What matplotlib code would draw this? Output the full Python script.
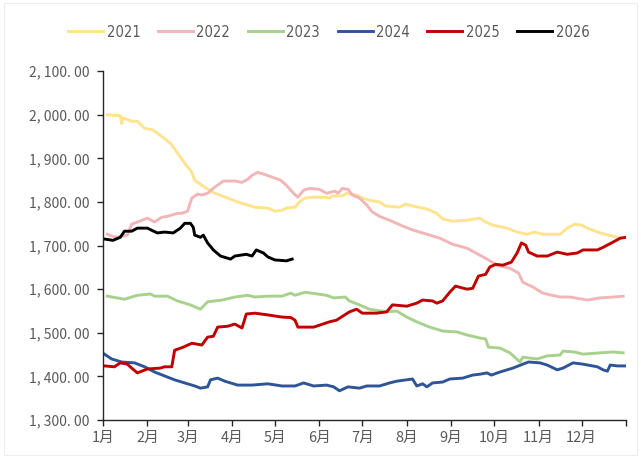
# Seasonal price lines, 2021-2026, by day of year

import matplotlib
matplotlib.use('Agg')
import matplotlib.pyplot as plt
from matplotlib.patches import Rectangle
import numpy as np

# --- Data (day of year, value) ---
days_2021 = [3, 12, 13, 14, 20, 24, 29, 35, 41, 47, 52, 57, 62, 64, 71, 78, 87, 94, 106, 115,
             120, 125, 128, 134, 137, 141, 147, 154, 158, 160, 167, 170, 177, 181, 186, 193, 197,
             207, 211, 216, 226, 233, 237, 244, 254, 263, 267, 272, 282, 289, 296, 301, 307, 319,
             324, 329, 334, 338, 347, 359, 361]
vals_2021 = [2000, 1998, 1980, 1993, 1985, 1985, 1969, 1965, 1950, 1935, 1912, 1889, 1868, 1850,
             1834, 1820, 1809, 1800, 1788, 1786, 1779, 1781, 1786, 1788, 1800, 1809, 1811, 1811,
             1809, 1814, 1814, 1820, 1816, 1809, 1804, 1800, 1791, 1788, 1795, 1791, 1784, 1774,
             1761, 1756, 1758, 1763, 1754, 1747, 1740, 1731, 1726, 1731, 1726, 1726, 1740, 1749,
             1747, 1740, 1729, 1719, 1717]

days_2022 = [3, 6, 10, 17, 20, 24, 31, 36, 41, 45, 52, 55, 59, 62, 66, 69, 73, 78, 84, 92, 97,
             101, 104, 108, 113, 118, 124, 128, 133, 136, 140, 144, 151, 156, 162, 164, 167, 171,
             174, 179, 184, 188, 193, 200, 209, 216, 226, 235, 244, 254, 258, 263, 268, 275, 284,
             290, 293, 300, 307, 312, 319, 326, 338, 347, 356, 363]
vals_2022 = [1726, 1722, 1719, 1724, 1749, 1754, 1763, 1754, 1765, 1767, 1774, 1774, 1779, 1809,
             1818, 1816, 1820, 1834, 1848, 1848, 1845, 1852, 1861, 1868, 1863, 1857, 1850, 1838,
             1820, 1811, 1827, 1831, 1829, 1820, 1825, 1820, 1831, 1829, 1816, 1809, 1793, 1777,
             1767, 1758, 1745, 1736, 1726, 1717, 1703, 1694, 1687, 1678, 1669, 1655, 1648, 1637,
             1616, 1605, 1591, 1587, 1582, 1582, 1575, 1580, 1582, 1584]

days_2023 = [3, 15, 24, 33, 36, 45, 52, 61, 68, 73, 83, 92, 101, 106, 115, 125, 131, 134, 141,
             156, 161, 169, 172, 179, 186, 198, 205, 212, 219, 228, 237, 247, 254, 263, 267, 269,
             277, 284, 291, 293, 303, 310, 319, 321, 329, 335, 347, 356, 363]
vals_2023 = [1584, 1577, 1586, 1589, 1584, 1584, 1573, 1564, 1554, 1571, 1575, 1582, 1586, 1582,
             1584, 1584, 1591, 1586, 1593, 1586, 1580, 1582, 1573, 1564, 1554, 1548, 1550, 1536,
             1525, 1513, 1504, 1502, 1495, 1488, 1486, 1467, 1465, 1454, 1433, 1444, 1440, 1447,
             1449, 1458, 1456, 1451, 1454, 1456, 1454]

days_2024 = [1, 6, 13, 22, 29, 36, 43, 50, 57, 64, 68, 73, 75, 80, 85, 94, 104, 115, 125, 134,
             140, 147, 156, 161, 165, 171, 179, 184, 193, 200, 205, 216, 219, 223, 226, 230, 237,
             242, 251, 258, 263, 268, 271, 277, 286, 293, 297, 305, 310, 317, 321, 328, 335, 345,
             349, 352, 354, 359, 364]
vals_2024 = [1451, 1440, 1433, 1431, 1422, 1410, 1401, 1392, 1385, 1378, 1373, 1376, 1392, 1396,
             1389, 1380, 1380, 1383, 1378, 1378, 1385, 1378, 1380, 1376, 1367, 1376, 1373, 1378,
             1378, 1385, 1389, 1394, 1378, 1383, 1376, 1385, 1387, 1394, 1396, 1403, 1405, 1408,
             1403, 1410, 1419, 1428, 1433, 1431, 1426, 1415, 1419, 1431, 1428, 1422, 1415, 1412,
             1426, 1424, 1424]

days_2025 = [1, 8, 12, 17, 20, 24, 31, 40, 43, 48, 50, 56, 62, 69, 73, 77, 80, 87, 92, 97, 100,
             106, 115, 125, 131, 134, 136, 147, 158, 163, 172, 177, 181, 191, 198, 202, 212, 219,
             223, 230, 233, 237, 242, 246, 254, 258, 262, 267, 270, 274, 279, 285, 289, 292, 295,
             297, 303, 310, 317, 324, 331, 335, 345, 349, 356, 361, 365]
vals_2025 = [1424, 1422, 1431, 1428, 1419, 1408, 1417, 1419, 1422, 1422, 1460, 1467, 1476, 1472,
             1490, 1492, 1513, 1515, 1520, 1511, 1543, 1545, 1541, 1536, 1535, 1529, 1513, 1513,
             1525, 1529, 1548, 1554, 1545, 1545, 1548, 1564, 1561, 1568, 1575, 1573, 1568, 1573,
             1593, 1607, 1600, 1602, 1630, 1634, 1651, 1657, 1655, 1662, 1683, 1706, 1701, 1685,
             1676, 1676, 1685, 1680, 1683, 1690, 1690, 1696, 1708, 1717, 1719]

days_2026 = [1, 7, 12, 15, 20, 24, 31, 34, 38, 43, 49, 54, 57, 61, 63, 64, 68, 70, 73, 77, 82,
             89, 92, 100, 104, 107, 112, 115, 120, 128, 132]
vals_2026 = [1715, 1712, 1719, 1733, 1733, 1740, 1740, 1735, 1729, 1731, 1729, 1740, 1751, 1751,
             1742, 1724, 1719, 1724, 1706, 1690, 1676, 1669, 1676, 1680, 1676, 1690, 1683, 1674,
             1667, 1665, 1669]

month_starts = [0, 31, 59, 90, 120, 151, 181, 212, 243, 273, 304, 334]
month_labels = ['1月', '2月', '3月', '4月', '5月', '6月', '7月', '8月', '9月', '10月', '11月', '12月']
y_ticks = [1300, 1400, 1500, 1600, 1700, 1800, 1900, 2000, 2100]

series = [
    ('2021', days_2021, vals_2021, '#FFE38F'),
    ('2022', days_2022, vals_2022, '#F2B6B8'),
    ('2023', days_2023, vals_2023, '#A9D18E'),
    ('2024', days_2024, vals_2024, '#2F5597'),
    ('2025', days_2025, vals_2025, '#C00000'),
    ('2026', days_2026, vals_2026, '#000000'),
]

text_color = '#595959'
plt.rcParams['font.family'] = ['Noto Sans CJK SC', 'DejaVu Sans']

fig = plt.figure(figsize=(6.41, 4.58), dpi=100)
ax = fig.add_axes([0.1607, 0.0830, 0.8159, 0.7616])

# faint frame round the whole picture
fig.patches.append(Rectangle((0.006, 0.006), 0.988, 0.988, transform=fig.transFigure,
                             fill=False, edgecolor='#EDEDED', linewidth=0.8))

for name, d, v, c in series:
    ax.plot(d, v, color=c, linewidth=2.1, label=name, solid_joinstyle='round')

ax.set_xlim(0, 365)
ax.set_ylim(1300, 2100)
ax.set_yticks(y_ticks)
ax.set_yticklabels([f"{t:,.2f}".replace(',', ', ').replace('.', '. ') for t in y_ticks],
                   fontsize=10, color=text_color)
ax.set_xticks(month_starts + [365])
ax.set_xticklabels(month_labels + [''], fontsize=10.5, color=text_color)

for side in ['top', 'right']:
    ax.spines[side].set_visible(False)
for side in ['left', 'bottom']:
    ax.spines[side].set_color('#262626')
    ax.spines[side].set_linewidth(1.0)
ax.tick_params(axis='both', direction='out', length=4, width=1.0, color='#262626')
ax.tick_params(axis='y', pad=6)
ax.tick_params(axis='x', pad=4)

fig.legend(loc='center', bbox_to_anchor=(0.513, 0.93), ncol=6, frameon=False,
           handlelength=2.4, handletextpad=0.25, columnspacing=1.2,
           labelcolor=text_color, prop={'family': ['DejaVu Sans'], 'size': 10.5,
                                        'stretch': 'condensed'})

fig.savefig('out.png', dpi=100)
